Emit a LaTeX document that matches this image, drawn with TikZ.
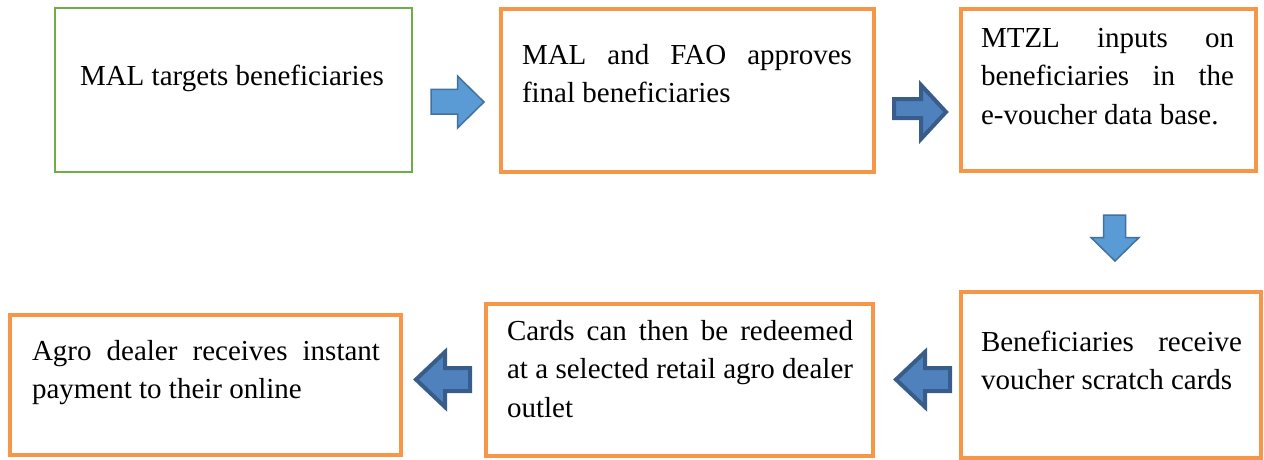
\documentclass[tikz,border=0pt]{standalone}
\usepackage{fontspec}
\setmainfont{Liberation Serif}
\definecolor{boxorange}{HTML}{F79646}
\definecolor{boxgreen}{HTML}{70AD47}
\definecolor{lightfill}{HTML}{5B9BD5}
\definecolor{lightline}{HTML}{41719C}
\definecolor{darkfill}{HTML}{4F81BD}
\definecolor{darkline}{HTML}{385D8A}
\tikzset{
  obox/.style={draw=boxorange, line width=4pt, rectangle, inner sep=0pt, outer sep=0pt},
  gbox/.style={draw=boxgreen, line width=2.6pt, rectangle, inner sep=0pt, outer sep=0pt},
  txt/.style={anchor=north west, inner sep=0pt, outer sep=0pt, align=left,
    font=\fontsize{29}{38.5}\selectfont},
  larrow/.style={fill=lightfill, draw=lightline, line width=1.5pt, line join=miter},
  darrow/.style={fill=darkfill, draw=darkline, line width=4pt, line join=miter},
}
\begin{document}
\begin{tikzpicture}[x=1pt,y=-1pt]
\useasboundingbox (0,0) rectangle (1264,460);
% boxes
\node[gbox, minimum width=357pt, minimum height=164pt] (b1) at (233.5,90) {};
\node[obox, minimum width=373pt, minimum height=163pt] (b2) at (687.5,90.5) {};
\node[obox, minimum width=295pt, minimum height=162pt] (b3) at (1108.5,90) {};
\node[obox, minimum width=300pt, minimum height=166pt] (b4) at (1111,375) {};
\node[obox, minimum width=387pt, minimum height=152pt] (b5) at (679.5,380) {};
\node[obox, minimum width=391pt, minimum height=140pt] (b6) at (205.5,385) {};
% texts
\node[txt, anchor=base west] (t1) at (80,85) {MAL targets beneficiaries};
\node[txt] (t2) at (522,37.4) {\strut\makebox[330pt][s]{MAL and FAO approves}\\final beneficiaries};
\node[txt] (t3) at (981,20.4) {\strut\makebox[253pt][s]{MTZL inputs on}\\\makebox[253pt][s]{beneficiaries in the}\\e-voucher data base.};
\node[txt] (t4) at (981,324.4) {\strut\makebox[261pt][s]{Beneficiaries receive}\\voucher scratch cards};
\node[txt] (t5) at (507,313.4) {\strut\makebox[346pt][s]{Cards can then be redeemed}\\\makebox[346pt][s]{at a selected retail agro dealer}\\outlet};
\node[txt] (t6) at (32,333.4) {\strut\makebox[348pt][s]{Agro dealer receives instant}\\payment to their online};
% block arrows
\draw[larrow] (431,89.5) -- (457.5,89.5) -- (457.5,76) -- (484,102) -- (457.5,128) -- (457.5,114) -- (431,114) -- cycle;
\draw[darrow] (894,99) -- (921,99) -- (921,85) -- (946,112) -- (921,139) -- (921,118) -- (894,118) -- cycle;
\draw[larrow] (1103.5,215) -- (1125.5,215) -- (1125.5,237.5) -- (1139,237.5) -- (1115,261) -- (1091,237.5) -- (1103.5,237.5) -- cycle;
\draw[darrow] (950,368) -- (925,368) -- (925,352) -- (896,379.5) -- (925,407) -- (925,391) -- (950,391) -- cycle;
\draw[darrow] (470,368) -- (445,368) -- (445,352) -- (416,379.5) -- (445,407) -- (445,391) -- (470,391) -- cycle;
\end{tikzpicture}
\end{document}
